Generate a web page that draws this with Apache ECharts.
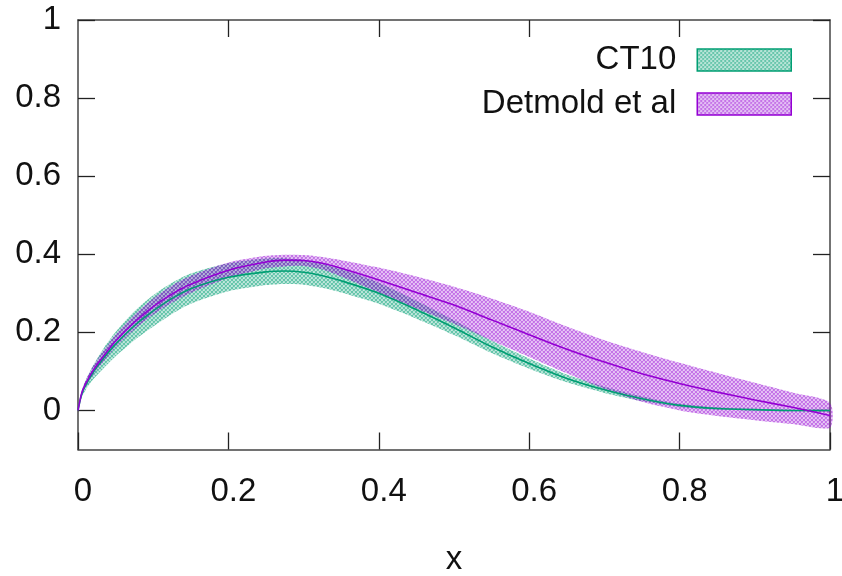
<!DOCTYPE html>
<html>
<head>
<meta charset="utf-8">
<script src="https://cdn.jsdelivr.net/npm/echarts@6/dist/echarts.min.js"></script>
<style>html,body{margin:0;padding:0;background:#fff;}#c{width:842px;height:576px;}</style>
</head>
<body>
<div id="c"></div>
<script>
// ---- data ----
var xs = [0, 0.005, 0.01, 0.02, 0.035, 0.05, 0.075, 0.1, 0.125, 0.15, 0.2, 0.25, 0.275, 0.3, 0.325, 0.35, 0.4, 0.45, 0.5, 0.55, 0.6, 0.65, 0.7, 0.75, 0.8, 0.85, 0.9, 0.95, 1.0];

var ct10Central = [0, 0.042, 0.064, 0.097, 0.136, 0.17, 0.217, 0.255, 0.287, 0.312, 0.341, 0.355, 0.357, 0.354, 0.345, 0.332, 0.300, 0.258, 0.212, 0.163, 0.12, 0.082, 0.053, 0.03, 0.013, 0.005, 0.002, 0.0, 0.0];
var ct10Upper   = [0, 0.050, 0.076, 0.115, 0.162, 0.201, 0.254, 0.295, 0.327, 0.351, 0.377, 0.389, 0.390, 0.386, 0.376, 0.362, 0.327, 0.281, 0.231, 0.179, 0.133, 0.092, 0.061, 0.036, 0.017, 0.008, 0.004, 0.002, 0.002];
var ct10Lower   = [0, 0.034, 0.052, 0.079, 0.110, 0.139, 0.180, 0.215, 0.247, 0.273, 0.305, 0.321, 0.324, 0.322, 0.314, 0.302, 0.273, 0.235, 0.193, 0.147, 0.107, 0.072, 0.045, 0.024, 0.009, 0.002, 0.0, -0.002, -0.002];

var detCentral = [0, 0.045, 0.068, 0.102, 0.142, 0.178, 0.226, 0.266, 0.298, 0.323, 0.359, 0.380, 0.385, 0.384, 0.377, 0.364, 0.334, 0.302, 0.27, 0.232, 0.194, 0.157, 0.124, 0.094, 0.069, 0.047, 0.027, 0.008, -0.013];
var detUpper   = [0, 0.05, 0.076, 0.113, 0.156, 0.194, 0.245, 0.287, 0.32, 0.345, 0.379, 0.396, 0.399, 0.398, 0.393, 0.385, 0.366, 0.343, 0.317, 0.287, 0.253, 0.215, 0.180, 0.150, 0.122, 0.096, 0.071, 0.046, 0.02];
var detLower   = [0, 0.04, 0.06, 0.091, 0.128, 0.162, 0.207, 0.245, 0.276, 0.301, 0.339, 0.364, 0.369, 0.370, 0.361, 0.343, 0.302, 0.261, 0.222, 0.179, 0.137, 0.095, 0.055, 0.022, 0.000, -0.014, -0.025, -0.035, -0.044];

var tickValues = [0, 0.2, 0.4, 0.6, 0.8, 1];
var innerTicks = [0.2, 0.4, 0.6, 0.8];
var yTickValues = [0, 0.2, 0.4, 0.6, 0.8, 1];
var names = ['CT10', 'Detmold et al'];

// ---- styling helpers ----
var GREEN = '#009e73', PURPLE = '#9400d3';
function makePattern(rgba) {
  var c = document.createElement('canvas');
  c.width = 4; c.height = 4;
  var g = c.getContext('2d');
  g.strokeStyle = rgba; g.lineWidth = 1.4;
  g.beginPath();
  g.moveTo(-1, -1); g.lineTo(5, 5);
  g.moveTo(-1, 3); g.lineTo(1, 5);
  g.moveTo(3, -1); g.lineTo(5, 1);
  g.moveTo(5, -1); g.lineTo(-1, 5);
  g.moveTo(1, -1); g.lineTo(-1, 1);
  g.moveTo(5, 3); g.lineTo(3, 5);
  g.stroke();
  return { image: c, repeat: 'repeat' };
}
var greenPat = makePattern('rgba(0,158,115,0.6)');
var purplePat = makePattern('rgba(148,0,211,0.55)');

function pairs(ys) { return xs.map(function (x, i) { return [x, ys[i]]; }); }

var FONT = 'Liberation Sans';
var SM = 0.3;

function band(name, lo, up, pat) {
  return {
    name: name, type: 'custom', data: [[0, 0]], silent: true,
    renderItem: function (params, api) {
      var top = [], bot = [];
      for (var i = 0; i < xs.length; i++) {
        top.push(api.coord([xs[i], up[i]]));
        bot.push(api.coord([xs[i], lo[i]]));
      }
      bot.reverse();
      return {
        type: 'group',
        children: [
          { type: 'polygon', shape: { points: top.concat(bot), smooth: 0.25 },
            style: { fill: pat, stroke: null } }
        ]
      };
    }
  };
}

var series = [
  band(names[0], ct10Lower, ct10Upper, greenPat),
  band(names[1], detLower, detUpper, purplePat),
  { name: 'ct10c', type: 'line', data: pairs(ct10Central), smooth: SM, symbol: 'none',
    lineStyle: { color: GREEN, width: 1.6 }, silent: true },
  { name: 'detc', type: 'line', data: pairs(detCentral), smooth: SM, symbol: 'none',
    lineStyle: { color: PURPLE, width: 1.6 }, silent: true }
];

var axisLine = { show: true, onZero: false, lineStyle: { color: '#444', width: 1.5 } };
var tick = function (vals) { return { show: true, inside: true, length: 17, customValues: vals, lineStyle: { color: '#222', width: 1.3 } }; };

var option = {
  animation: false,
  backgroundColor: '#fff',
  grid: { left: 78, right: 12, top: 20, bottom: 126.5, containLabel: false, outerBoundsMode: 'none' },
  legend: {
    orient: 'vertical', right: 45, top: 38, align: 'right',
    itemWidth: 94, itemHeight: 22, itemGap: 10, selectedMode: false,
    textStyle: { fontFamily: FONT, fontSize: 33, color: '#111', lineHeight: 34, padding: [0, 16, 0, 0] },
    data: [
      { name: names[0], icon: 'rect', itemStyle: { color: greenPat, borderColor: GREEN, borderWidth: 1.5, opacity: 1 } },
      { name: names[1], icon: 'rect', itemStyle: { color: purplePat, borderColor: PURPLE, borderWidth: 1.5, opacity: 1 } }
    ]
  },
  xAxis: [
    { type: 'value', min: 0, max: 1, position: 'bottom', axisLine: axisLine, splitLine: { show: false },
      axisTick: tick(tickValues),
      axisLabel: { customValues: tickValues, margin: 26, fontFamily: FONT, fontSize: 33, color: '#111', padding: [0, 0, 0, 10] },
      name: 'x', nameLocation: 'middle', nameGap: 94, nameTextStyle: { fontFamily: FONT, fontSize: 33, color: '#111' } },
    { type: 'value', min: 0, max: 1, position: 'top', axisLine: axisLine, splitLine: { show: false },
      axisTick: tick(innerTicks), axisLabel: { show: false } }
  ],
  yAxis: [
    { type: 'value', min: -0.1, max: 1, position: 'left', axisLine: axisLine, splitLine: { show: false },
      axisTick: tick(yTickValues),
      axisLabel: { customValues: yTickValues, margin: 17, fontFamily: FONT, fontSize: 33, color: '#111' } },
    { type: 'value', min: -0.1, max: 1, position: 'right', axisLine: axisLine, splitLine: { show: false },
      axisTick: tick(yTickValues), axisLabel: { show: false } }
  ],
  series: series
};

var chart = echarts.init(document.getElementById('c'), null, { renderer: 'canvas' });
chart.setOption(option);
</script>
</body>
</html>
